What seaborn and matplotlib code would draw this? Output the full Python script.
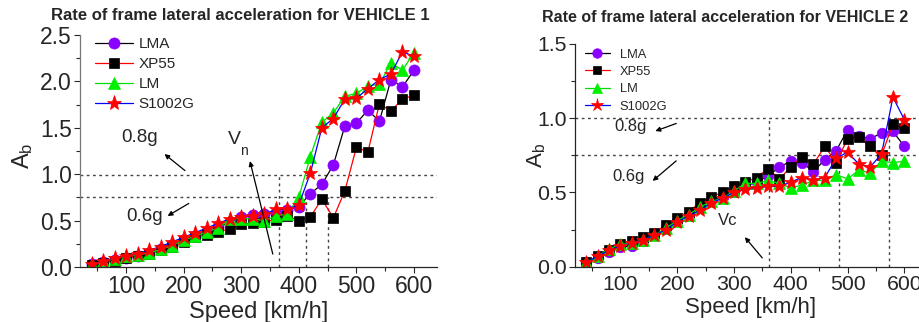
import matplotlib
matplotlib.use("Agg")
import matplotlib.pyplot as plt
from matplotlib.ticker import MultipleLocator
import seaborn as sns

sns.set_theme(style="ticks")
plt.rcParams["font.family"] = ["Liberation Sans", "DejaVu Sans"]
plt.rcParams["mathtext.fontset"] = "custom"
plt.rcParams["mathtext.rm"] = "Liberation Sans"
plt.rcParams["mathtext.it"] = "Liberation Sans:italic"

# Speeds at which the lateral acceleration was evaluated [km/h]
speed = [40, 60, 80, 100, 120, 140, 160, 180, 200, 220, 240, 260, 280, 300,
         320, 340, 360, 380, 400, 420, 440, 460, 480, 500, 520, 540, 560, 580, 600]

# VEHICLE 1 - frame lateral acceleration A_b per wheel profile
lma_v1 = [0.03, 0.05, 0.08, 0.10, 0.12, 0.15, 0.19, 0.24, 0.29, 0.33, 0.38, 0.43, 0.48, 0.54,
          0.56, 0.57, 0.58, 0.61, 0.65, 0.79, 0.89, 1.10, 1.52, 1.55, 1.69, 1.57, 2.02, 1.94, 2.12]
xp55_v1 = [0.02, 0.04, 0.07, 0.10, 0.12, 0.14, 0.18, 0.22, 0.27, 0.32, 0.35, 0.38, 0.41, 0.46,
           0.47, 0.49, 0.51, 0.55, 0.50, 0.54, 0.73, 0.53, 0.82, 1.29, 1.24, 1.76, 1.68, 1.81, 1.85]
lm_v1 = [0.03, 0.06, 0.09, 0.12, 0.13, 0.15, 0.19, 0.23, 0.29, 0.33, 0.38, 0.42, 0.52, 0.52,
         0.52, 0.50, 0.55, 0.57, 0.75, 1.19, 1.56, 1.66, 1.84, 1.87, 1.95, 1.97, 2.20, 2.12, 2.31]
s1002g_v1 = [0.03, 0.06, 0.10, 0.12, 0.14, 0.18, 0.22, 0.27, 0.32, 0.37, 0.42, 0.47, 0.52, 0.54,
             0.55, 0.57, 0.62, 0.62, 0.67, 1.01, 1.50, 1.60, 1.81, 1.82, 1.92, 2.02, 2.08, 2.32, 2.27]

# VEHICLE 2
lma_v2 = [0.03, 0.06, 0.10, 0.13, 0.14, 0.17, 0.21, 0.26, 0.31, 0.35, 0.40, 0.45, 0.47, 0.50,
          0.54, 0.57, 0.61, 0.67, 0.71, 0.70, 0.64, 0.72, 0.78, 0.92, 0.88, 0.86, 0.90, 0.91, 0.81]
xp55_v2 = [0.03, 0.07, 0.11, 0.15, 0.17, 0.20, 0.23, 0.28, 0.33, 0.37, 0.43, 0.47, 0.50, 0.54,
           0.57, 0.60, 0.66, 0.59, 0.67, 0.74, 0.69, 0.81, 0.70, 0.86, 0.87, 0.81, 0.75, 0.96, 0.93]
lm_v2 = [0.03, 0.07, 0.12, 0.15, 0.16, 0.18, 0.21, 0.26, 0.31, 0.35, 0.40, 0.44, 0.46, 0.51,
         0.56, 0.56, 0.58, 0.56, 0.53, 0.55, 0.58, 0.58, 0.62, 0.59, 0.65, 0.63, 0.71, 0.70, 0.71]
s1002g_v2 = [0.03, 0.07, 0.11, 0.14, 0.16, 0.18, 0.21, 0.25, 0.30, 0.34, 0.38, 0.43, 0.46, 0.50,
             0.52, 0.53, 0.54, 0.54, 0.57, 0.60, 0.58, 0.60, 0.73, 0.77, 0.69, 0.67, 0.76, 1.14, 0.99]

profiles = ["LMA", "XP55", "LM", "S1002G"]
# line colour, marker, marker colour, marker size
styles = {
    "LMA": ("black", "o", "#8a00ff", 8),
    "XP55": ("red", "s", "black", 7),
    "LM": ("#00dd00", "^", "#00ee00", 8.5),
    "S1002G": ("blue", "*", "red", 11),
}

fig = plt.figure(figsize=(9.19, 3.22), dpi=100)
ax1 = fig.add_axes([80 / 919, 55 / 322, 357 / 919, 232 / 322])
ax2 = fig.add_axes([575 / 919, 55.3 / 322, 352 / 919, 223 / 322])


def draw_series(ax, series, scale):
    for name, vals in zip(profiles, series):
        lc, mk, mc, ms = styles[name]
        sns.lineplot(x=speed, y=vals, ax=ax, color=lc, lw=0.9, marker=mk,
                     markersize=ms * scale, markerfacecolor=mc, markeredgecolor=mc,
                     markeredgewidth=0.5, label=name, legend=False, sort=False)


draw_series(ax1, [lma_v1, xp55_v1, lm_v1, s1002g_v1], 1.0)
draw_series(ax2, [lma_v2, xp55_v2, lm_v2, s1002g_v2], 0.95)

dot = dict(color="#444444", lw=1.0, ls=(0, (2, 2.5)), zorder=1)

# VEHICLE 1 guides
ax1.axhline(0.99, **dot)
ax1.axhline(0.75, **dot)
ax1.plot([365, 365], [0, 0.99], **dot)
ax1.plot([412, 412], [0, 0.75], **dot)
ax1.plot([451, 451], [0, 0.75], **dot)

# VEHICLE 2 guides
ax2.axhline(1.0, **dot)
ax2.axhline(0.75, **dot)
ax2.plot([362, 362], [0, 1.0], **dot)
ax2.plot([485, 485], [0, 0.75], **dot)
ax2.plot([573, 573], [0, 1.0], **dot)

arrow = dict(arrowstyle="-|>", color="black", lw=0.9, mutation_scale=7)

ax1.text(124, 1.40, "0.8g", fontsize=13.5, ha="center", va="center")
ax1.annotate("", xy=(163, 1.236), xytext=(206, 1.02), arrowprops=arrow)
ax1.text(132, 0.54, "0.6g", fontsize=13.5, ha="center", va="center")
ax1.annotate("", xy=(168, 0.535), xytext=(213, 0.70), arrowprops=arrow)
ax1.text(289, 1.37, "V", fontsize=14, ha="center", va="center")
ax1.text(304, 1.25, "n", fontsize=10, ha="center", va="center")
ax1.annotate("", xy=(314, 1.17), xytext=(356, 0.11), arrowprops=arrow)

ax2.text(118, 0.946, "0.8g", fontsize=12, ha="center", va="center")
ax2.annotate("", xy=(157, 0.906), xytext=(203, 0.97), arrowprops=arrow)
ax2.text(115, 0.605, "0.6g", fontsize=12, ha="center", va="center")
ax2.annotate("", xy=(153, 0.565), xytext=(202, 0.724), arrowprops=arrow)
ax2.text(289, 0.31, "Vc", fontsize=12, ha="center", va="center")
ax2.annotate("", xy=(316, 0.213), xytext=(353, 0.045), arrowprops=arrow)

for ax, ymax, tfs, lfs in [(ax1, 2.5, 16.5, 17), (ax2, 1.5, 15.3, 16)]:
    ax.set_xlim(20, 640)
    ax.set_ylim(0, ymax)
    ax.xaxis.set_major_locator(MultipleLocator(100))
    ax.xaxis.set_minor_locator(MultipleLocator(50))
    ax.yaxis.set_major_locator(MultipleLocator(0.5))
    ax.yaxis.set_minor_locator(MultipleLocator(0.25))
    ax.set_xticks([100, 200, 300, 400, 500, 600])
    ax.tick_params(which="major", direction="out", length=4, width=0.8,
                   labelsize=tfs, pad=2)
    ax.tick_params(which="minor", direction="out", length=3, width=0.8)
    ax.set_xlabel("Speed [km/h]", fontsize=lfs, labelpad=2)
    ax.set_ylabel(r"A$_\mathregular{b}$", fontsize=lfs)
    sns.despine(ax=ax)
    for s in ("left", "bottom"):
        ax.spines[s].set_linewidth(0.9)

ax1.yaxis.set_label_coords(-0.125, 0.48)
ax2.yaxis.set_label_coords(-0.077, 0.50)
ax1.spines["left"].set_color("#777777")

fig.text(240 / 919, 1 - 16 / 322, "Rate of frame lateral acceleration for VEHICLE 1",
         fontsize=12, fontweight="bold", ha="center", va="center")
fig.text(725 / 919, 1 - 18 / 322, "Rate of frame lateral acceleration for VEHICLE 2",
         fontsize=11.5, fontweight="bold", ha="center", va="center")

ax1.legend(loc="upper left", bbox_to_anchor=(95 / 919, 1 - 37.5 / 322),
           bbox_transform=fig.transFigure, frameon=False, fontsize=11,
           handlelength=2.5, handletextpad=0.35, labelspacing=0.38, borderpad=0,
           borderaxespad=0)
ax2.legend(loc="upper left", bbox_to_anchor=(585 / 919, 1 - 48.5 / 322),
           bbox_transform=fig.transFigure, frameon=False, fontsize=9.3,
           handlelength=1.9, handletextpad=0.8, labelspacing=0.42, borderpad=0,
           borderaxespad=0, markerscale=0.9)

fig.savefig("out.png", dpi=100)
